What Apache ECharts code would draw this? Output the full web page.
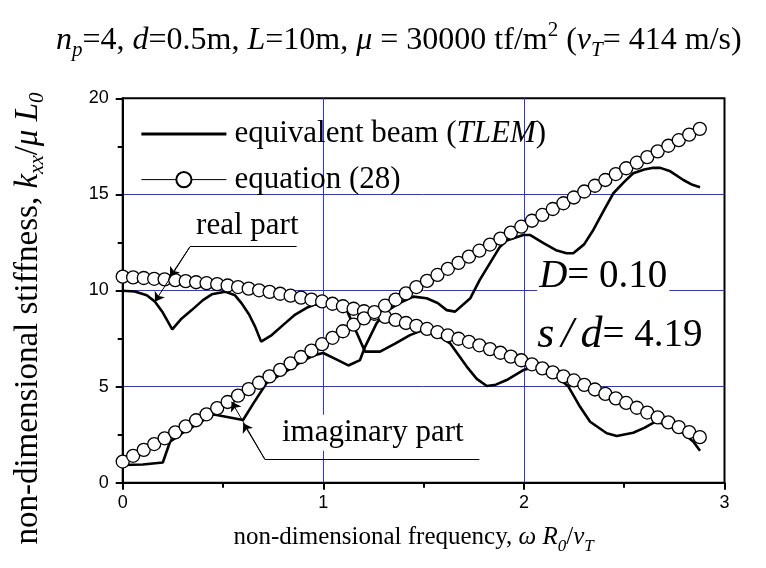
<!DOCTYPE html>
<html>
<head>
<meta charset="utf-8">
<script src="https://cdn.jsdelivr.net/npm/echarts@6/dist/echarts.min.js"></script>
<style>
  html, body { margin: 0; padding: 0; background: #fff; }
  #chart { width: 766px; height: 568px; }
</style>
</head>
<body>
<div id="chart"></div>
<script>
// Frequency samples of the closed-form solution, equation (28)
const eqFreq = [0, 0.052, 0.105, 0.157, 0.209, 0.262, 0.314, 0.366, 0.418, 0.471,
  0.523, 0.575, 0.628, 0.680, 0.732, 0.785, 0.837, 0.889, 0.941, 0.994,
  1.046, 1.098, 1.151, 1.203, 1.255, 1.308, 1.360, 1.412, 1.464, 1.517,
  1.569, 1.621, 1.674, 1.726, 1.778, 1.831, 1.883, 1.935, 1.987, 2.040,
  2.092, 2.144, 2.197, 2.249, 2.301, 2.354, 2.406, 2.458, 2.510, 2.563,
  2.615, 2.667, 2.720, 2.772, 2.824, 2.877];
const eqReal = [10.72, 10.68, 10.65, 10.61, 10.58, 10.54, 10.49, 10.43, 10.38, 10.33,
  10.26, 10.18, 10.10, 10.01, 9.93, 9.83, 9.73, 9.63, 9.53, 9.43,
  9.31, 9.18, 9.05, 8.92, 8.79, 8.63, 8.47, 8.31, 8.16, 8.00,
  7.83, 7.66, 7.49, 7.33, 7.15, 6.95, 6.76, 6.56, 6.37, 6.16,
  5.95, 5.74, 5.53, 5.32, 5.09, 4.85, 4.62, 4.39, 4.15, 3.90,
  3.65, 3.40, 3.14, 2.89, 2.63, 2.37];
const eqImag = [1.10, 1.40, 1.71, 2.01, 2.31, 2.62, 2.93, 3.25, 3.56, 3.88,
  4.20, 4.53, 4.87, 5.20, 5.53, 5.87, 6.21, 6.54, 6.87, 7.21,
  7.54, 7.88, 8.22, 8.55, 8.88, 9.21, 9.53, 9.85, 10.18, 10.50,
  10.81, 11.13, 11.44, 11.76, 12.07, 12.39, 12.70, 13.01, 13.32, 13.63,
  13.93, 14.24, 14.54, 14.84, 15.15, 15.45, 15.75, 16.06, 16.36, 16.65,
  16.94, 17.24, 17.53, 17.82, 18.11, 18.41];

// Equivalent beam (TLEM) results
const tlemRealFreq = [0, 0.06, 0.12, 0.161, 0.2, 0.247, 0.29, 0.344, 0.4, 0.444,
  0.51, 0.56, 0.593, 0.63, 0.66, 0.69, 0.743, 0.809, 0.86, 0.917,
  0.96, 1.03, 1.117, 1.166, 1.208, 1.283, 1.36, 1.432, 1.5, 1.56,
  1.632, 1.715, 1.765, 1.815, 1.86, 1.914, 1.997, 2.04, 2.1, 2.16,
  2.222, 2.28, 2.33, 2.413, 2.463, 2.545, 2.6, 2.654, 2.7, 2.78,
  2.845, 2.878];
const tlemReal = [9.99, 9.95, 9.75, 9.42, 8.85, 7.98, 8.5, 8.98, 9.5, 9.8,
  9.94, 9.75, 9.33, 8.75, 8.12, 7.34, 7.68, 8.29, 8.75, 9.1,
  9.28, 9.2, 8.98, 7.82, 6.82, 6.82, 7.25, 7.68, 7.95, 7.75,
  7.25, 6.04, 5.4, 5.03, 5.1, 5.34, 5.86, 5.98, 5.85, 5.55,
  5.0, 3.95, 3.17, 2.57, 2.43, 2.6, 2.85, 3.17, 3.05, 2.7,
  2.13, 1.66];
const tlemImagFreq = [0, 0.1, 0.2, 0.236, 0.3, 0.38, 0.45, 0.468, 0.6, 0.65,
  0.718, 0.8, 0.9, 0.96, 1.0, 1.06, 1.125, 1.183, 1.208, 1.266,
  1.32, 1.38, 1.449, 1.515, 1.57, 1.615, 1.657, 1.733, 1.78, 1.881,
  1.914, 1.997, 2.03, 2.1, 2.16, 2.213, 2.246, 2.3, 2.346, 2.4,
  2.446, 2.5, 2.545, 2.6, 2.645, 2.68, 2.73, 2.795, 2.84, 2.878];
const tlemImag = [0.92, 0.95, 1.05, 2.13, 2.6, 3.1, 3.55, 3.52, 3.26, 4.1,
  5.2, 5.7, 6.35, 6.65, 6.75, 6.44, 6.1, 6.38, 7.07, 8.3,
  8.95, 9.35, 9.68, 9.6, 9.35, 8.98, 8.9, 9.6, 10.55, 12.28,
  12.6, 12.89, 12.89, 12.45, 12.1, 11.94, 11.94, 12.4, 13.15, 14.2,
  15.06, 15.65, 16.1, 16.3, 16.39, 16.38, 16.2, 15.75, 15.5, 15.37];

// Parameter labels drawn inside the plot
const dampingText = '{i|D}{r|= 0.10}';
const spacingText = '{ib|s}{sl|/}{ib|d}{r|= 4.19}';

const SERIF = '"Liberation Serif", "Times New Roman", Times, serif';
const SANS = '"Liberation Sans", Arial, Helvetica, sans-serif';

const pairs = (xs, ys) => xs.map((x, i) => [x, ys[i]]);

function serifRich(size, lh, subSize) {
  const base = { fontFamily: SERIF, fontWeight: 'normal', color: '#000' };
  return {
    r: Object.assign({}, base, { fontSize: size, lineHeight: lh }),
    i: Object.assign({}, base, { fontSize: size, fontStyle: 'italic', lineHeight: lh }),
    ib: Object.assign({}, base, { fontSize: Math.round(size * 1.12), fontStyle: 'italic', lineHeight: lh }),
    sb: Object.assign({}, base, { fontSize: subSize, fontStyle: 'italic',
          lineHeight: subSize, verticalAlign: 'bottom' }),
    sp: Object.assign({}, base, { fontSize: subSize,
          lineHeight: subSize, verticalAlign: 'top' }),
    sl: Object.assign({}, base, { fontSize: Math.round(size * 1.12), fontStyle: 'italic',
          lineHeight: lh, padding: [0, 7, 0, 7] })
  };
}

const chart = echarts.init(document.getElementById('chart'), null, { renderer: 'canvas' });

const black = '#000';
const gridBlue = '#2f2fff';

// Leader lines for the "real part" / "imaginary part" notes (data coordinates)
const realNoteFrom = [0.3355, 12.28];
const realNoteUnderEnd = [0.867, 12.28];
const realNoteTips = [[0.236, 10.72], [0.161, 9.42]];
const imagNoteFrom = [0.709, 1.21];
const imagNoteUnderEnd = [1.778, 1.21];
const imagNoteTips = [[0.543, 4.21], [0.601, 3.09]];

function leader(from, to, arrow) {
  return [
    { coord: from, symbol: 'none' },
    { coord: to, symbol: arrow ? 'arrow' : 'none' }
  ];
}

const axisCommon = {
  axisLine: { show: true, onZero: false, lineStyle: { color: black, width: 2 } },
  axisTick: { show: true, inside: false, length: 7, lineStyle: { color: black, width: 2 } },
  minorTick: { show: true, splitNumber: 2, length: 5, lineStyle: { color: black, width: 2 } },
  splitLine: { show: true, showMinLine: false, showMaxLine: false,
               lineStyle: { color: gridBlue, width: 1 } },
  minorSplitLine: { show: false }
};

const option = {
  animation: false,
  backgroundColor: '#fff',
  title: {
    text: '{i|n}{sb|p}{r|=4, }{i|d}{r|=0.5m, }{i|L}{r|=10m, }{i|μ}{r| = 30000 tf/m}{sp|2}{r| (}{i|v}{sb|T}{r|= 414 m/s)}',
    left: 56,
    top: 20,
    padding: 0,
    textStyle: { fontWeight: 'normal', rich: serifRich(32, 41, 21) }
  },
  legend: {
    orient: 'vertical',
    left: 140,
    top: 118.5,
    itemWidth: 85,
    itemHeight: 19,
    itemGap: 14.6,
    selectedMode: false,
    padding: 0,
    data: [
      { name: 'tlem', itemStyle: { opacity: 0 }, lineStyle: { width: 2.8, color: black } },
      { name: 'eq', lineStyle: { width: 1, color: black } }
    ],
    formatter: function (name) {
      return name === 'tlem'
        ? '{r|equivalent beam (}{i|TLEM}{r|)}'
        : '{r|equation (28)}';
    },
    textStyle: { fontWeight: 'normal', rich: serifRich(31, 34, 20), padding: [0, 0, 0, 3] }
  },
  grid: {
    left: 122.7,
    right: 41.5,
    top: 98.3,
    bottom: 85.3,
    show: true,
    borderColor: black,
    borderWidth: 2,
    containLabel: false
  },
  xAxis: Object.assign({
    type: 'value',
    min: 0,
    max: 3,
    interval: 1,
    name: '{r|non-dimensional frequency, }{i|ω R}{sb|0}{r|/}{i|v}{sb|T}',
    nameLocation: 'middle',
    nameGap: 38,
    nameTextStyle: { fontWeight: 'normal', rich: serifRich(25, 34, 17), padding: [0, 20, 0, 0] },
    axisLabel: { fontFamily: SANS, fontSize: 18, color: black, margin: 11 }
  }, axisCommon),
  yAxis: Object.assign({
    type: 'value',
    min: 0,
    max: 20,
    interval: 5,
    name: '{r|non-dimensional stiffness, }{i|k}{sb|xx}{r|/}{i|μ L}{sb|0}',
    nameLocation: 'middle',
    nameRotate: 90,
    nameGap: 75,
    nameTextStyle: { fontWeight: 'normal', rich: serifRich(33, 38, 21), padding: [0, 56, 0, 0] },
    axisLabel: { fontFamily: SANS, fontSize: 18, color: black, margin: 14 }
  }, axisCommon),
  series: [
    {
      name: 'tlem',
      type: 'line',
      data: pairs(tlemRealFreq, tlemReal),
      symbol: 'none',
      lineStyle: { color: black, width: 2.6 },
      itemStyle: { color: black },
      z: 2,
      silent: true
    },
    {
      name: 'tlem',
      type: 'line',
      data: pairs(tlemImagFreq, tlemImag),
      symbol: 'none',
      lineStyle: { color: black, width: 2.6 },
      itemStyle: { color: black },
      z: 2,
      silent: true
    },
    {
      name: 'eq',
      type: 'line',
      data: pairs(eqFreq, eqReal),
      symbol: 'circle',
      symbolSize: 13,
      showAllSymbol: true,
      lineStyle: { color: black, width: 1 },
      itemStyle: { color: '#fff', borderColor: black, borderWidth: 1.3 },
      z: 3,
      silent: true
    },
    {
      name: 'eq',
      type: 'line',
      data: pairs(eqFreq, eqImag),
      symbol: 'circle',
      symbolSize: 13,
      showAllSymbol: true,
      lineStyle: { color: black, width: 1 },
      itemStyle: { color: '#fff', borderColor: black, borderWidth: 1.3 },
      z: 3,
      silent: true
    },
    {
      name: 'notes',
      type: 'line',
      data: [],
      z: 5,
      silent: true,
      markLine: {
        silent: true,
        symbolSize: 9,
        label: { show: false },
        emphasis: { disabled: true },
        lineStyle: { color: black, width: 1, type: 'solid' },
        data: [
          leader(realNoteFrom, realNoteUnderEnd, false),
          leader(realNoteFrom, realNoteTips[0], true),
          leader(realNoteFrom, realNoteTips[1], true),
          leader(imagNoteFrom, imagNoteUnderEnd, false),
          leader(imagNoteFrom, imagNoteTips[0], true),
          leader(imagNoteFrom, imagNoteTips[1], true)
        ]
      }
    }
  ]
};

chart.setOption(option);

// Text notes placed from data coordinates (left edge, baseline)
function noteText(anchor, text, size, lh, bg) {
  const p = chart.convertToPixel({ gridIndex: 0 }, anchor);
  const el = {
    type: 'text',
    z: 10,
    silent: true,
    style: {
      text: text,
      x: p[0],
      y: p[1] - 0.34 * size,
      align: 'left',
      verticalAlign: 'middle',
      rich: serifRich(size, lh, Math.round(size * 0.65))
    }
  };
  if (bg) {
    el.style.backgroundColor = '#fff';
    el.style.padding = [1, 2, 1, 2];
  }
  return el;
}

chart.setOption({
  graphic: [
    noteText([0.366, 12.83], '{r|real part}', 31, 34, false),
    noteText([0.784, 2.05], '{r|imaginary part}', 31, 34, true),
    noteText([2.066, 10.0], dampingText, 39, 36, true),
    noteText([2.066, 6.96], spacingText, 39, 36, false)
  ]
});
</script>
</body>
</html>
